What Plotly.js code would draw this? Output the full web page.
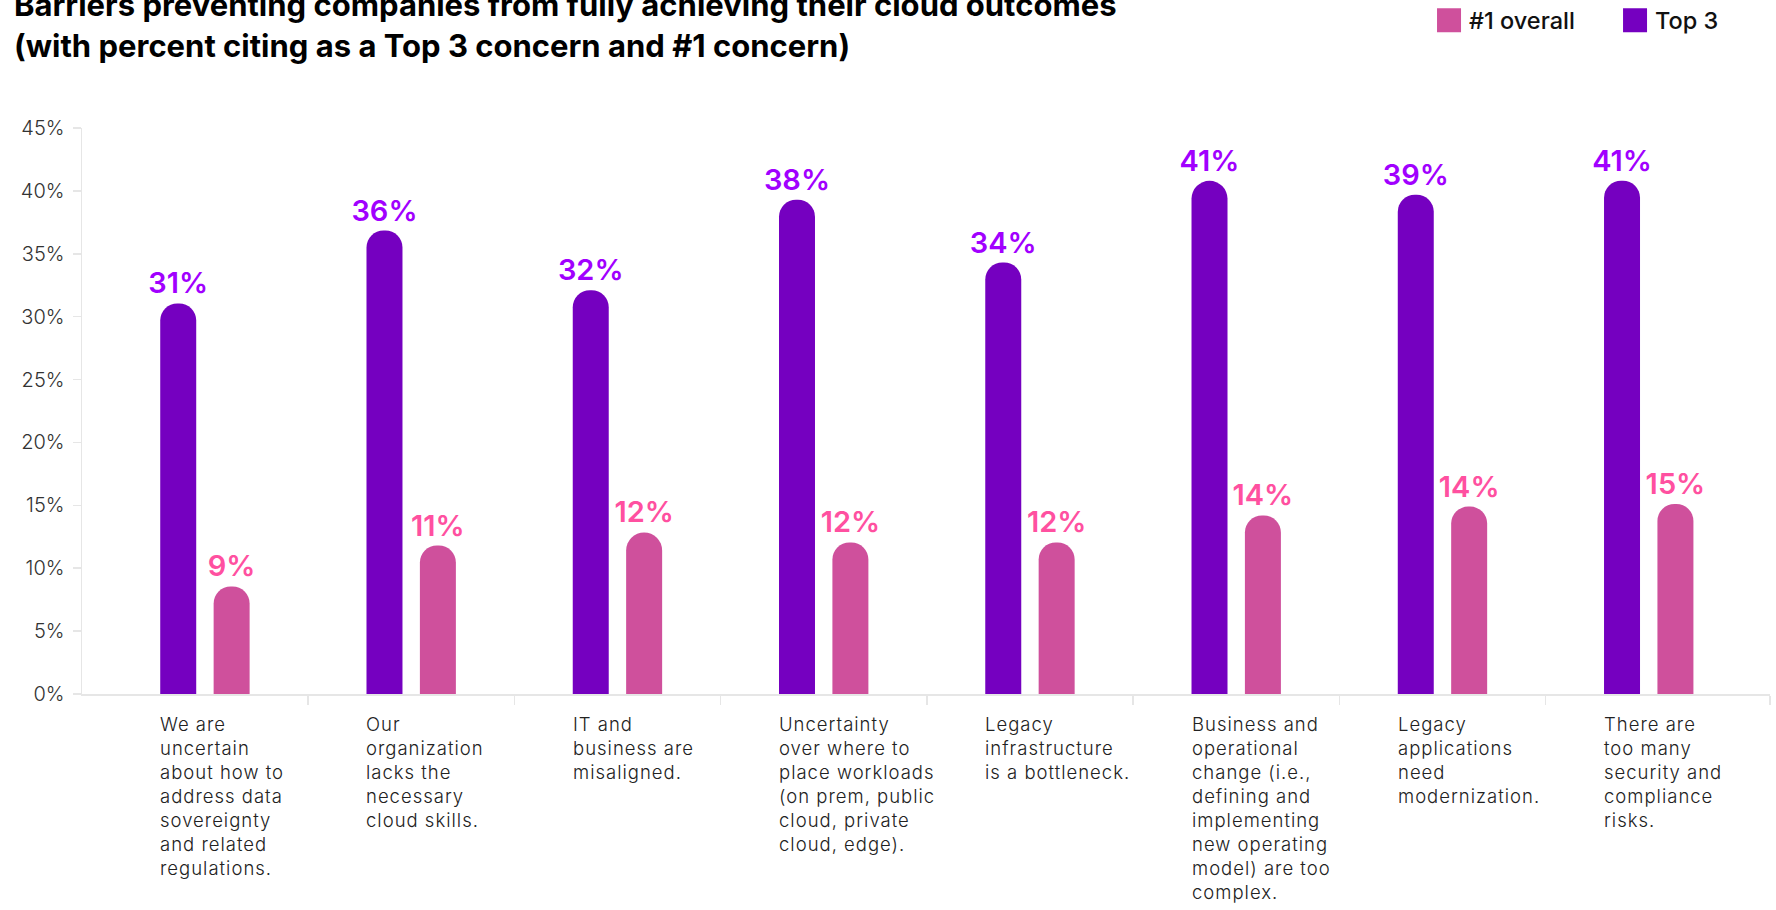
<!DOCTYPE html>
<html>
<head>
<meta charset="utf-8">
<script src="https://cdn.plot.ly/plotly-3.0.1.min.js"></script>
<style>
  html, body { margin: 0; padding: 0; background: #ffffff; }
  #chart { width: 1776px; height: 910px; }
  #chart .annotation-text { letter-spacing: 1px; }
</style>
</head>
<body>
<div id="chart"></div>
<script>
// ---- Data ----
const categories = [
  "We are<br>uncertain<br>about how to<br>address data<br>sovereignty<br>and related<br>regulations.",
  "Our<br>organization<br>lacks the<br>necessary<br>cloud skills.",
  "IT and<br>business are<br>misaligned.",
  "Uncertainty<br>over where to<br>place workloads<br>(on prem, public<br>cloud, private<br>cloud, edge).",
  "Legacy<br>infrastructure<br>is a bottleneck.",
  "Business and<br>operational<br>change (i.e.,<br>defining and<br>implementing<br>new operating<br>model) are too<br>complex.",
  "Legacy<br>applications<br>need<br>modernization.",
  "There are<br>too many<br>security and<br>compliance<br>risks."
];
// bar heights as drawn (percent)
const top3Values = [31.05, 36.85, 32.1, 39.3, 34.3, 40.8, 39.7, 40.8];
const top1Values = [8.55, 11.8, 12.85, 12.05, 12.05, 14.2, 14.9, 15.1];
// printed labels
const top3Labels = ["31%", "36%", "32%", "38%", "34%", "41%", "39%", "41%"];
const top1Labels = ["9%", "11%", "12%", "12%", "12%", "14%", "14%", "15%"];
const yTickValues = [0, 5, 10, 15, 20, 25, 30, 35, 40, 45];

const titleLine1 = "Barriers preventing companies from fully achieving their cloud outcomes";
const titleLine2 = "(with percent citing as a Top 3 concern and #1 concern)";

// ---- Styling ----
const PURPLE = "#7500C0", PURPLE_TXT = "#A100FF";
const PINK = "#CF509C", PINK_TXT = "#FF50A0";
const AXIS = "#e6e6e6";
const FONT = "Inter, 'Open Sans', sans-serif";
const BAR_W = 0.1745;          // bar width in category units
const OFF_TOP3 = -0.2167;       // left edge offset of Top 3 bar
const OFF_TOP1 = 0.0422;        // left edge offset of #1 bar

const xIdx = categories.map((c, i) => i);

const traceTop3 = {
  type: "bar", name: "Top 3", legend: "legend2", x: xIdx, y: top3Values,
  width: BAR_W, offset: OFF_TOP3,
  marker: { color: PURPLE, cornerradius: "50%", line: { width: 0 } },
  text: top3Labels, textposition: "outside", constraintext: "none",
  textfont: { family: FONT, size: 29, color: PURPLE_TXT, weight: 600 },
  cliponaxis: false, hoverinfo: "skip"
};
const traceTop1 = {
  type: "bar", name: "#1 overall", legend: "legend", x: xIdx, y: top1Values,
  width: BAR_W, offset: OFF_TOP1,
  marker: { color: PINK, cornerradius: "50%", line: { width: 0 } },
  text: top1Labels, textposition: "outside", constraintext: "none",
  textfont: { family: FONT, size: 29, color: PINK_TXT, weight: 600 },
  cliponaxis: false, hoverinfo: "skip"
};

const catAnnotations = categories.map((c, i) => ({
  x: i + OFF_TOP3, xref: "x", xanchor: "left", xshift: -2,
  y: 0, yref: "paper", yanchor: "top", yshift: -17,
  text: c, align: "left", showarrow: false,
  font: { family: FONT, size: 18.5, color: "#222222", weight: 300 }
}));

const xMin = -0.596, xMax = 7.588;
const boundaryTicks = categories.slice(1).map((c, i) => i + 0.5).concat([xMax - 0.001]);

const legendFont = { family: FONT, size: 23.5, color: "#111111", weight: 500 };

const layout = {
  width: 1776, height: 910,
  paper_bgcolor: "#ffffff", plot_bgcolor: "#ffffff",
  margin: { l: 82, r: 6, t: 128, b: 216, pad: 0 },
  font: { family: FONT, color: "#333333" },
  title: {
    text: "<b>" + titleLine1 + "<br>" + titleLine2 + "</b>",
    x: 14 / 1776, xanchor: "left", xref: "container",
    y: 0.9821, yanchor: "bottom", yref: "container",
    font: { family: FONT, size: 31, color: "#000000", weight: 700 }
  },
  barmode: "overlay",
  showlegend: true,
  legend: {
    orientation: "h",
    x: 0.798, xanchor: "left", y: 0.9775, yanchor: "middle", yref: "container",
    font: legendFont, itemclick: false, itemdoubleclick: false
  },
  legend2: {
    orientation: "h",
    x: 0.9082, xanchor: "left", y: 0.9775, yanchor: "middle", yref: "container",
    font: legendFont, itemclick: false, itemdoubleclick: false
  },
  xaxis: {
    type: "linear", range: [xMin, xMax], fixedrange: true,
    showgrid: false, zeroline: false, showticklabels: false,
    showline: true, linecolor: AXIS, linewidth: 2,
    tickmode: "array", tickvals: boundaryTicks,
    ticks: "outside", ticklen: 9, tickcolor: AXIS, tickwidth: 1.5
  },
  yaxis: {
    range: [0, 45], fixedrange: true,
    tickmode: "array", tickvals: yTickValues,
    ticktext: yTickValues.map(v => v + "%"),
    showgrid: false, zeroline: false,
    showline: true, linecolor: AXIS, linewidth: 1.5,
    ticks: "outside", ticklen: 8, tickcolor: AXIS, tickwidth: 1.5,
    ticklabelstandoff: 4,
    tickfont: { family: FONT, size: 20, color: "#333333", weight: 300 }
  },
  annotations: catAnnotations
};

Plotly.newPlot("chart", [traceTop3, traceTop1], layout, { displayModeBar: false, staticPlot: true })
  .then(gd => {
    gd.querySelectorAll(".legendpoints path").forEach(p => p.setAttribute("d", "M12,12H-12V-12H12Z"));
  });
</script>
</body>
</html>
